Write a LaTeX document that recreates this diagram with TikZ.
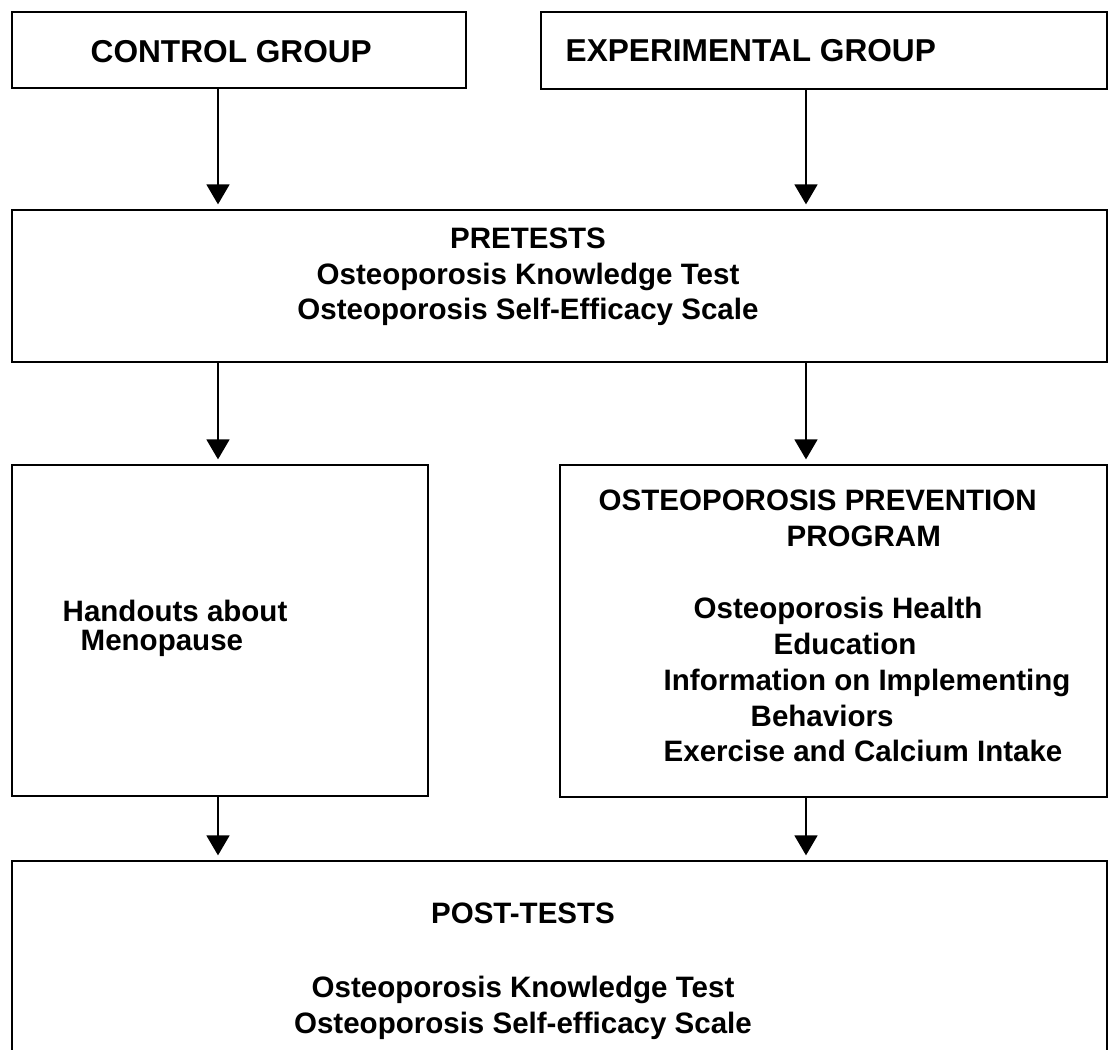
\documentclass[tikz,border=0pt]{standalone}
\usepackage{fontspec}
\setmainfont{Liberation Sans}
\usetikzlibrary{arrows.meta}

\begin{document}
\begin{tikzpicture}[
        box/.style={draw, line width=0.8pt, inner sep=0pt},
        head/.style={font=\bfseries\fontsize{9}{10.8}\selectfont, inner sep=0pt},
        txt/.style={font=\bfseries\fontsize{8.4}{10.24}\selectfont, inner sep=0pt},
        flow/.style={-{Triangle[length=0.2cm, width=0.23cm]}, line width=0.5pt, shorten >=1.2pt}
    ]
            \useasboundingbox (0,0) rectangle (11.16,10.5);
            \fill[white] (0,0) rectangle (11.16,10.5);
            \clip (0,0) rectangle (11.16,10.5);
            \coordinate (l) at (2.18,0);
            \coordinate (r) at (8.06,0);
            \node[box, minimum width=4.54cm, minimum height=0.76cm] (ctrl) at (2.39,10) {};
            \node[box, minimum width=5.66cm, minimum height=0.77cm] (expt) at (8.24,9.995) {};
            \node[box, minimum width=10.95cm, minimum height=1.52cm] (pre) at (5.595,7.64) {};
            \node[box, minimum width=4.16cm, minimum height=3.31cm] (hand) at (2.20,4.195) {};
            \node[box, minimum width=5.47cm, minimum height=3.32cm] (prog) at (8.335,4.19) {};
            \node[box, minimum width=10.95cm, minimum height=2.19cm] (post) at (5.595,0.795) {};
            \node[head, anchor=base west] (ctrltxt) at (0.90,9.87) {CONTROL GROUP};
            \node[head, anchor=base west] (expttxt) at (5.65,9.88) {EXPERIMENTAL GROUP};
            \node[txt, align=center, anchor=base] (pretxt) at (5.28,7.30) {PRETESTS\\
                Osteoporosis Knowledge Test\\
                Osteoporosis Self-Efficacy Scale};
            \node[txt, align=left, anchor=base west, font=\bfseries\fontsize{8.4}{8.5}\selectfont] (handtxt) at (0.62,3.99) {Handouts about\\
                \hspace*{0.18cm}Menopause};
            \node[txt, align=left, anchor=base west] (progtxt) at (5.98,2.88) {OSTEOPOROSIS PREVENTION\\
                \hspace*{1.88cm}PROGRAM\\[10.24pt]
                \hspace*{0.95cm}Osteoporosis Health\\
                \hspace*{1.75cm}Education\\
                \hspace*{0.65cm}Information on Implementing\\
                \hspace*{1.52cm}Behaviors\\
                \hspace*{0.65cm}Exercise and Calcium Intake};
            \node[txt, align=center, anchor=base, font=\bfseries\fontsize{8.4}{10.5}\selectfont] (posttxt) at (5.23,0.16) {POST-TESTS\\[10.5pt]
                Osteoporosis Knowledge Test\\
                Osteoporosis Self-efficacy Scale};
            \draw[flow] (ctrl.south -| l) -- (pre.north -| l);
            \draw[flow] (expt.south -| r) -- (pre.north -| r);
            \draw[flow] (pre.south -| l) -- (hand.north -| l);
            \draw[flow] (pre.south -| r) -- (prog.north -| r);
            \draw[flow] (hand.south -| l) -- (post.north -| l);
            \draw[flow] (prog.south -| r) -- (post.north -| r);
\end{tikzpicture}
\end{document}
